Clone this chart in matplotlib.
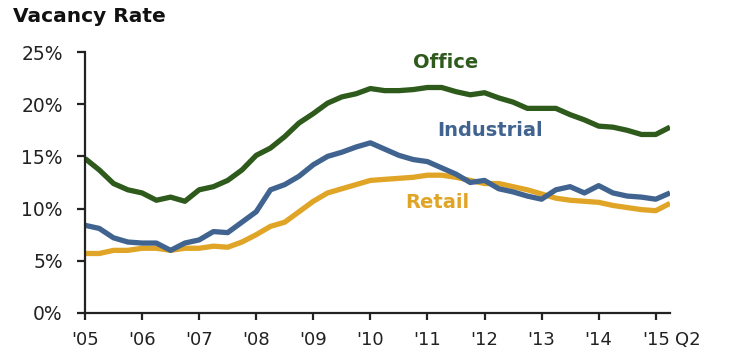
import numpy as np
import matplotlib
matplotlib.use("Agg")
import matplotlib.pyplot as plt
import matplotlib.transforms as mtransforms

# quarterly vacancy rates, '05 Q1 .. '15 Q2
quarters = np.arange(42)
office = [14.8, 13.7, 12.4, 11.8, 11.5, 10.8, 11.1, 10.7, 11.8, 12.1,
          12.7, 13.7, 15.1, 15.8, 16.9, 18.2, 19.1, 20.1, 20.7, 21.0,
          21.5, 21.3, 21.3, 21.4, 21.6, 21.6, 21.2, 20.9, 21.1, 20.6,
          20.2, 19.6, 19.6, 19.6, 19.0, 18.5, 17.9, 17.8, 17.5, 17.1,
          17.1, 17.8]
industrial = [8.4, 8.1, 7.2, 6.8, 6.7, 6.7, 6.0, 6.7, 7.0, 7.8,
              7.7, 8.7, 9.7, 11.8, 12.3, 13.1, 14.2, 15.0, 15.4, 15.9,
              16.3, 15.7, 15.1, 14.7, 14.5, 13.9, 13.3, 12.5, 12.7, 11.9,
              11.6, 11.2, 10.9, 11.8, 12.1, 11.5, 12.2, 11.5, 11.2, 11.1,
              10.9, 11.5]
retail = [5.7, 5.7, 6.0, 6.0, 6.2, 6.2, 6.0, 6.2, 6.2, 6.4,
          6.3, 6.8, 7.5, 8.3, 8.7, 9.7, 10.7, 11.5, 11.9, 12.3,
          12.7, 12.8, 12.9, 13.0, 13.2, 13.2, 13.0, 12.7, 12.4, 12.4,
          12.1, 11.8, 11.4, 11.0, 10.8, 10.7, 10.6, 10.3, 10.1, 9.9,
          9.8, 10.5]
year_labels = ["'05", "'06", "'07", "'08", "'09", "'10", "'11", "'12", "'13", "'14", "'15"]
y_ticks = [0, 5, 10, 15, 20, 25]

green = "#2e5a1c"
blue = "#40648f"
orange = "#e0a526"

fig = plt.figure(figsize=(7.29, 3.52), dpi=100)
ax = fig.add_axes([85 / 729, 1 - 313 / 352, 585 / 729, 261 / 352])

ax.plot(quarters, office, color=green, lw=3.8, solid_capstyle="butt")
ax.plot(quarters, retail, color=orange, lw=3.8, solid_capstyle="butt")
ax.plot(quarters, industrial, color=blue, lw=3.8, solid_capstyle="butt")

ax.set_xlim(0, 41)
ax.set_ylim(0, 25)
ax.set_yticks(y_ticks)
ax.set_yticklabels([f"{t}%" for t in y_ticks])
ax.set_xticks(np.arange(0, 41, 4))
ax.set_xticklabels(year_labels)

for s in ["top", "right"]:
    ax.spines[s].set_visible(False)
for s in ["left", "bottom"]:
    ax.spines[s].set_color("#222222")
    ax.spines[s].set_linewidth(1.6)
ax.tick_params(axis="both", direction="out", length=5, width=1.6,
               color="#222222", labelsize=13.5, labelcolor="#222222")
ax.tick_params(axis="y", length=6, pad=10)
ax.tick_params(axis="x", pad=8, labelsize=13)

trans = mtransforms.blended_transform_factory(ax.transData, ax.transAxes)
ax.text(41.35, -0.07, "Q2", transform=trans, ha="left", va="top",
        fontsize=13, color="#222222")

ax.text(25.3, 24.0, "Office", color=green, fontsize=14, fontweight="bold",
        ha="center", va="center")
ax.text(28.4, 17.5, "Industrial", color=blue, fontsize=14, fontweight="bold",
        ha="center", va="center")
ax.text(24.7, 10.6, "Retail", color=orange, fontsize=14, fontweight="bold",
        ha="center", va="center")

fig.text(13 / 729, 1 - 17 / 352, "Vacancy Rate", fontsize=14.5, fontweight="bold",
         color="#111111", ha="left", va="center")

fig.savefig("out.png", dpi=100)
